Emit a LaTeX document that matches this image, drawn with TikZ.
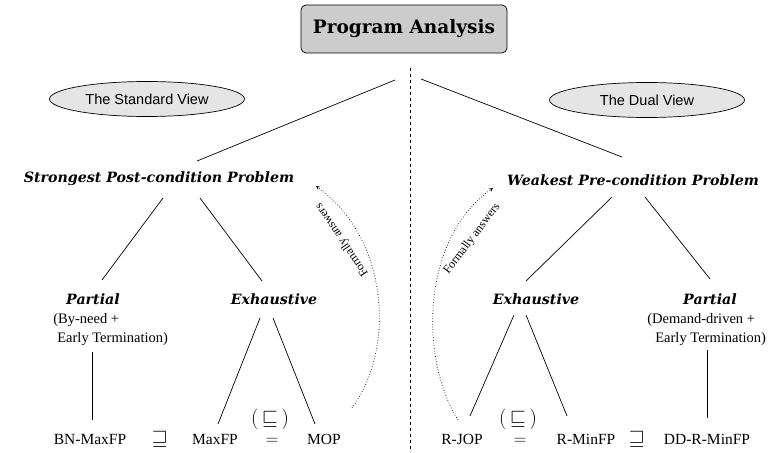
\documentclass[tikz,border=0pt]{standalone}
\usepackage{fontspec}
\setmainfont{Liberation Serif}
\newfontfamily\headfont{DejaVu Serif}
\newfontfamily\viewfont{Liberation Sans}
\usetikzlibrary{shapes.geometric,arrows}
\tikzset{
  titlebox/.style={draw,rounded corners=5pt,fill=gray!40,minimum width=206pt,minimum height=48pt,font=\headfont\bfseries\fontsize{18.5}{21}\selectfont},
  viewbox/.style={draw,ellipse,fill=gray!20,minimum width=195pt,minimum height=35pt,inner sep=0pt,font=\viewfont\fontsize{14.5}{17}\selectfont},
  probtext/.style={anchor=base,inner sep=0pt,font=\headfont\bfseries\itshape\fontsize{14.2}{17}\selectfont},
  notetext/.style={anchor=north west,inner sep=0pt,align=left,font=\fontsize{14.5}{19}\selectfont},
  leaf/.style={anchor=base,inner sep=0pt,font=\fontsize{15.5}{18}\selectfont},
  order/.style={anchor=base,inner sep=0pt,font=\fontsize{18}{20}\selectfont},
  bigorder/.style={anchor=base,inner sep=0pt,font=\fontsize{21}{22}\selectfont},
  answer/.style={dotted,-stealth},
  anstext/.style={inner sep=0pt,font=\fontsize{12}{14}\selectfont}
}
\begin{document}
\begin{tikzpicture}[x=1pt,y=-1pt,line width=0.7pt]
\useasboundingbox (0,0) rectangle (778,452);
\node[titlebox] (pa) at (404,29) {Program Analysis};
\node[viewbox] (sv) at (147,99) {The Standard View};
\node[viewbox] (dv) at (647,100) {The Dual View};
\node[probtext] (spp) at (159,182) {Strongest Post-condition Problem};
\node[probtext] (wpp) at (633,185) {Weakest Pre-condition Problem};
\node[probtext] (lp) at (93,304) {Partial};
\node[probtext] (le) at (274,304) {Exhaustive};
\node[probtext] (re) at (536,304) {Exhaustive};
\node[probtext] (rp) at (710,304) {Partial};
\node[notetext] (lpn) at (53,313) {(By-need +\\\hspace*{4pt}Early Termination)};
\node[notetext] (rpn) at (647,313) {(Demand-driven +\\\hspace*{8pt}Early Termination)};
\node[leaf] (bn) at (90,444) {BN-MaxFP};
\node[bigorder] (sq1) at (160,444) {$\sqsupseteq$};
\node[leaf] (maxfp) at (215,444) {MaxFP};
\node[order] (eq1) at (272,444) {$=$};
\node[bigorder] (le1) at (270,424) {$(\,\sqsubseteq\,)$};
\node[leaf] (mop) at (324,444) {MOP};
\node[leaf] (rjop) at (462,444) {R-JOP};
\node[order] (eq2) at (520,444) {$=$};
\node[bigorder] (le2) at (518,424) {$(\,\sqsubseteq\,)$};
\node[leaf] (rminfp) at (586,444) {R-MinFP};
\node[bigorder] (sq2) at (637,444) {$\sqsupseteq$};
\node[leaf] (ddr) at (707,444) {DD-R-MinFP};
\draw[dash pattern=on 3pt off 3pt] (410,68) -- (410,452);
\draw ([shift={(-9,51)}]pa.center) -- ([shift={(38,-21)}]spp.base);
\draw ([shift={(17,50)}]pa.center) -- ([shift={(-11,-28)}]wpp.base);
\draw ([shift={(4,16)}]spp.base) -- ([shift={(9,-24)}]lp.base);
\draw ([shift={(41,16)}]spp.base) -- ([shift={(-12,-23)}]le.base);
\draw ([shift={(-21,12)}]wpp.base) -- ([shift={(-10,-23)}]re.base);
\draw ([shift={(12,12)}]wpp.base) -- ([shift={(0,-25)}]rp.base);
\draw ([shift={(39,6)}]lpn.south west) -- ([shift={(2,-24)}]bn.base);
\draw ([shift={(60,4)}]rpn.south west) -- ([shift={(0,-26)}]ddr.base);
\draw ([shift={(-14,14)}]le.base) -- ([shift={(3,-20)}]maxfp.base);
\draw ([shift={(-1,14)}]le.base) -- ([shift={(-9,-20)}]mop.base);
\draw ([shift={(-22,11)}]re.base) -- ([shift={(8,-28)}]rjop.base);
\draw ([shift={(-10,11)}]re.base) -- ([shift={(-19,-28)}]rminfp.base);
\draw[answer] ([shift={(28,-36)}]mop.base) .. controls +(43,-58) and +(74,54) .. ([shift={(157,4)}]spp.base);
\draw[answer] ([shift={(-4,-24)}]rjop.base) .. controls +(-38,-60) and +(-73,52) .. ([shift={(-140,3)}]wpp.base);
\node[anstext,rotate=124] (fa1) at (342,240) {Formally answers};
\node[anstext,rotate=53] (fa2) at (472,239) {Formally answers};
\end{tikzpicture}
\end{document}
